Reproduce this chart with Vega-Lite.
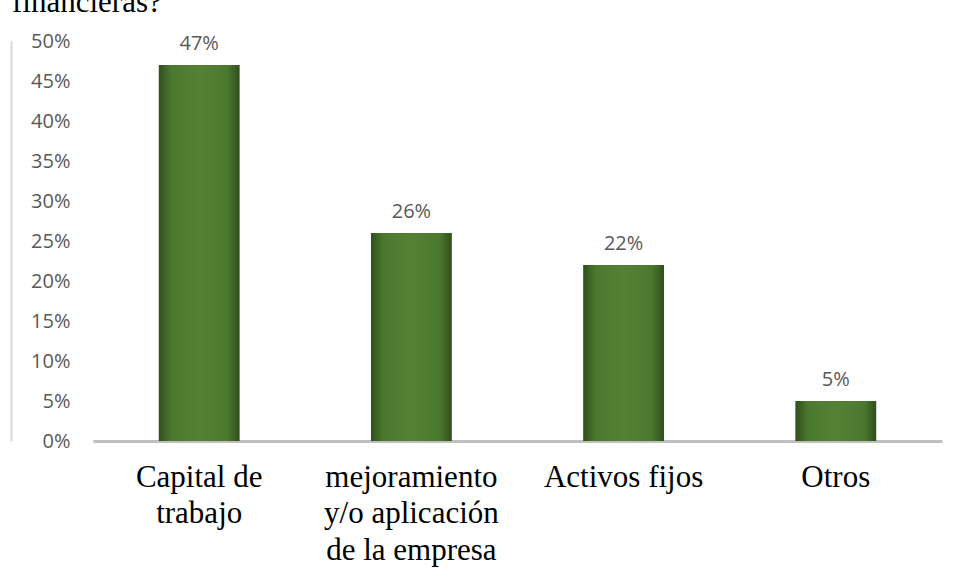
{
  "$schema": "https://vega.github.io/schema/vega-lite/v6.json",
  "width": 849,
  "height": 400,
  "autosize": {"type": "none"},
  "padding": {"left": 93, "top": 41, "right": 16, "bottom": 137},
  "background": "white",
  "title": {
    "text": "financieras?",
    "anchor": "start",
    "frame": "group",
    "font": "Liberation Serif",
    "fontSize": 31,
    "fontWeight": "normal",
    "color": "black",
    "dx": -81,
    "dy": -8,
    "offset": 4
  },
  "data": {
    "values": [
      {"cat": "Capital de|trabajo", "pct": 0.47},
      {"cat": "mejoramiento|y/o  aplicación|de la empresa", "pct": 0.26},
      {"cat": "Activos fijos", "pct": 0.22},
      {"cat": "Otros", "pct": 0.05}
    ]
  },
  "encoding": {
    "x": {
      "field": "cat",
      "type": "nominal",
      "sort": null,
      "scale": {"paddingInner": 0.619, "paddingOuter": 0.31},
      "axis": {
        "title": null,
        "labelAngle": 0,
        "labelExpr": "split(datum.label, '|')",
        "labelFont": "Liberation Serif",
        "labelFontSize": 31,
        "labelColor": "black",
        "labelPadding": 21,
        "labelLineHeight": 36.5,
        "labelLimit": 400,
        "ticks": false,
        "domainColor": "#bfbfbf",
        "domainWidth": 3
      }
    },
    "y": {
      "field": "pct",
      "type": "quantitative",
      "scale": {"domain": [0, 0.5]},
      "axis": {
        "title": null,
        "values": [0, 0.05, 0.1, 0.15, 0.2, 0.25, 0.3, 0.35, 0.4, 0.45, 0.5],
        "format": ".0%",
        "grid": false,
        "ticks": false,
        "domain": true,
        "domainColor": "#d9d9d9",
        "domainWidth": 2,
        "offset": 82,
        "labelPadding": -59,
        "labelAlign": "right",
        "labelFont": "Open Sans",
        "labelFontSize": 20,
        "labelColor": "#595959"
      }
    }
  },
  "layer": [
    {
      "mark": {
        "type": "bar",
        "color": {
          "gradient": "linear",
          "x1": 0, "x2": 1, "y1": 0, "y2": 0,
          "stops": [
            {"offset": 0, "color": "#2f4f1c"},
            {"offset": 0.15, "color": "#4a782d"},
            {"offset": 0.5, "color": "#548235"},
            {"offset": 0.85, "color": "#4a782d"},
            {"offset": 1, "color": "#2f4f1c"}
          ]
        }
      }
    },
    {
      "mark": {
        "type": "text",
        "font": "Open Sans",
        "fontSize": 20,
        "color": "#595959",
        "baseline": "alphabetic",
        "dy": -15
      },
      "encoding": {
        "text": {"field": "pct", "type": "quantitative", "format": ".0%"}
      }
    }
  ],
  "config": {"view": {"stroke": null}}
}
